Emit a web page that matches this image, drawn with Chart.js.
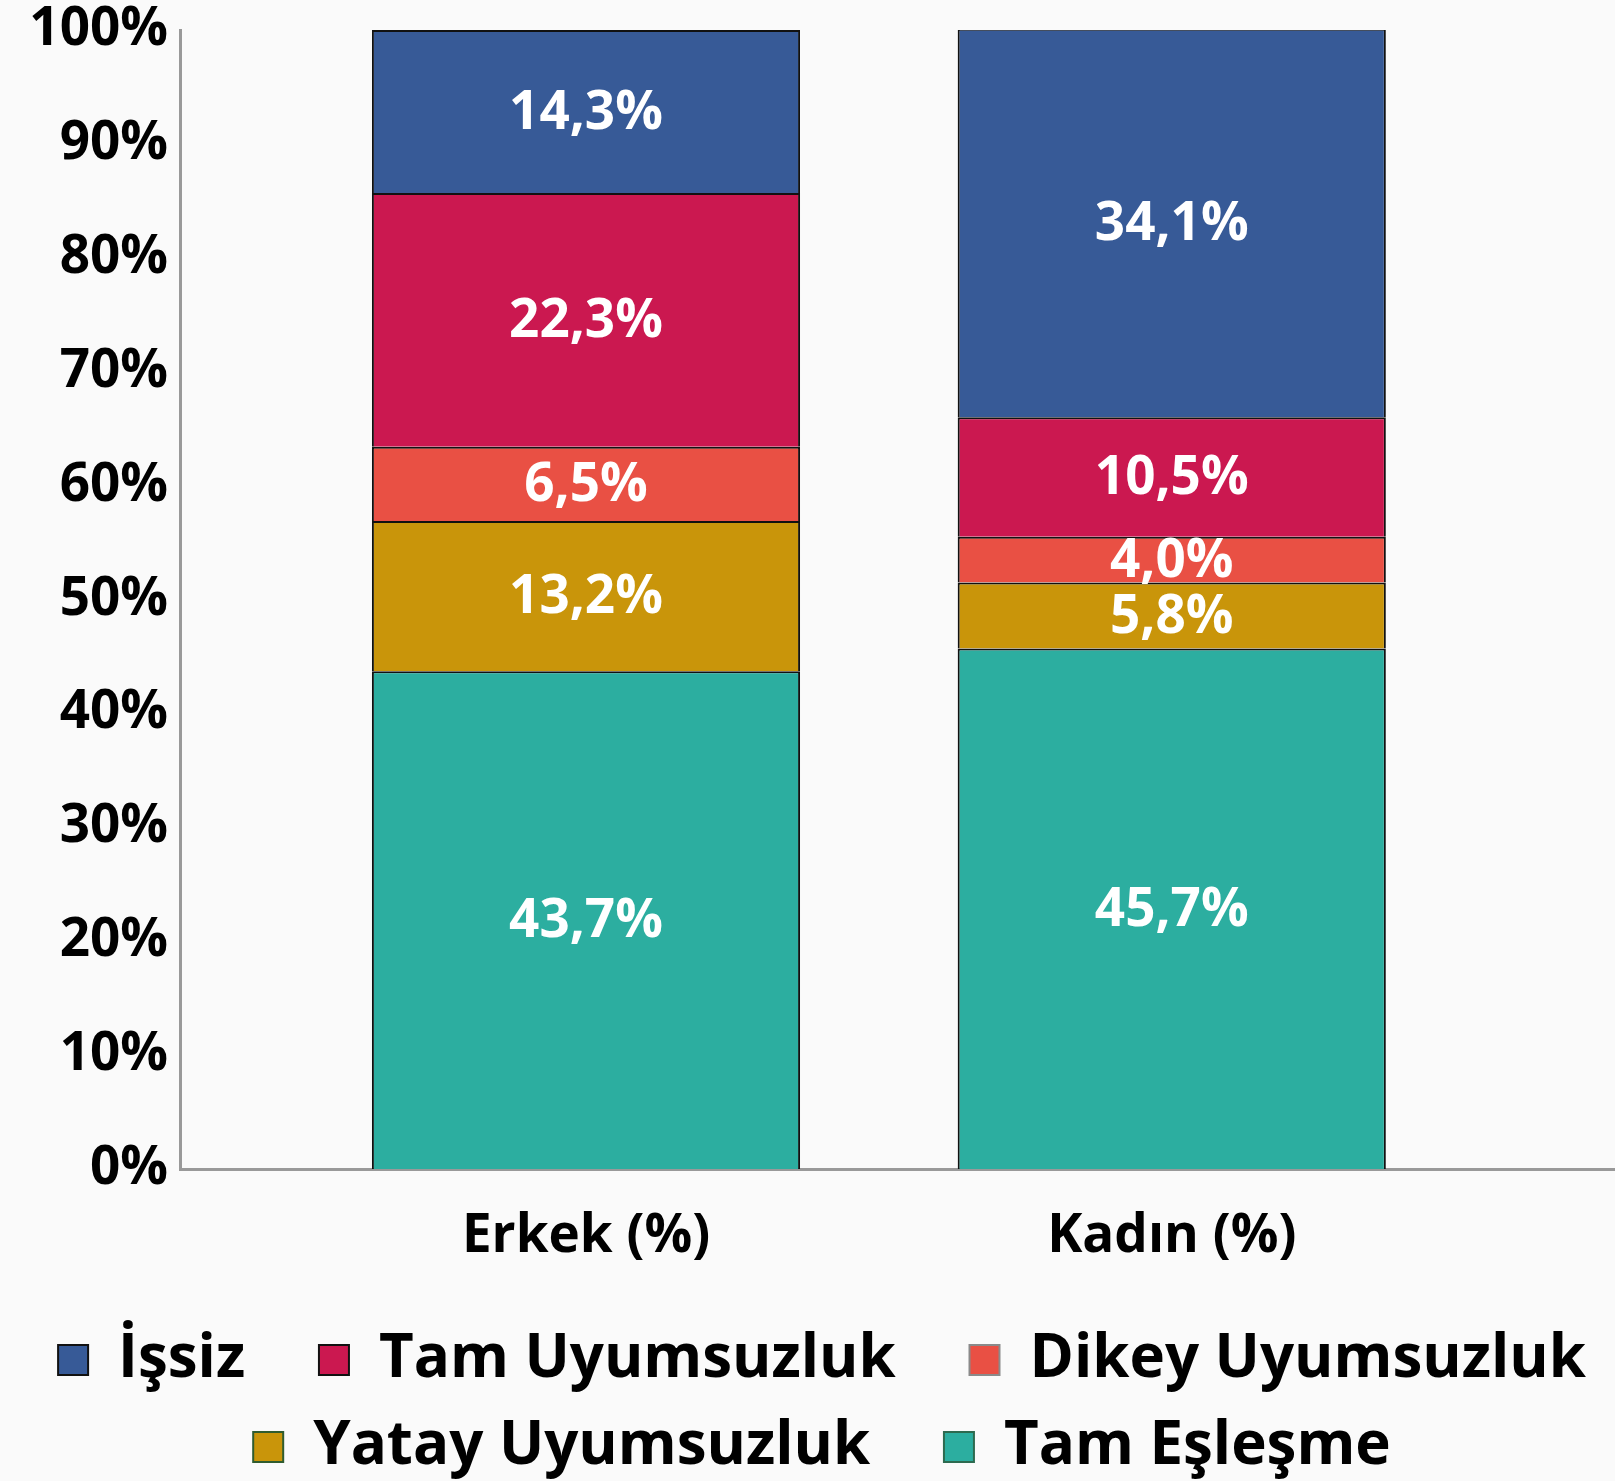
<!DOCTYPE html>
<html><head><meta charset="utf-8">
<script src="https://cdn.jsdelivr.net/npm/chart.js@4/dist/chart.umd.min.js"></script>
<style>html,body{margin:0;padding:0;background:#fafafa;} #wrap{width:1615px;height:1481px;position:relative;}</style>
</head><body><div id="wrap"><canvas id="c" width="1615" height="1481"></canvas></div>
<script>
// ---- data ----
const categories = ['Erkek (%)', 'Kadın (%)'];
const categoryPositions = [1, 2];
const seriesNames = ['Tam Eşleşme', 'Yatay Uyumsuzluk', 'Dikey Uyumsuzluk', 'Tam Uyumsuzluk', 'İşsiz'];
const tamEslesme = [43.7, 45.7];
const yatayUyumsuzluk = [13.2, 5.8];
const dikeyUyumsuzluk = [6.5, 4.0];
const tamUyumsuzluk = [22.3, 10.5];
const issiz = [14.3, 34.1];
const yTickValues = [0, 10, 20, 30, 40, 50, 60, 70, 80, 90, 100];

// ---- styles ----
const seriesValues = [tamEslesme, yatayUyumsuzluk, dikeyUyumsuzluk, tamUyumsuzluk, issiz];
const seriesColors = ['#2caea0', '#c9950a', '#e95044', '#cb1850', '#375a97'];
const legendBorders = ['#2d6a4f', '#2f5c2f', '#8a8a8a', '#111111', '#111111'];
const FONT = '"Open Sans", Lato, sans-serif';

const datasets = seriesNames.map((name, i) => ({
  label: name,
  data: seriesValues[i].map((v, j) => ({x: categoryPositions[j], y: v})),
  backgroundColor: seriesColors[i],
  borderColor: '#111111',
  borderWidth: 2,
  barPercentage: 0.731,
  categoryPercentage: 1.0
}));

const valueLabels = {
  id: 'valueLabels',
  afterDatasetsDraw(chart) {
    const ctx = chart.ctx;
    ctx.save();
    ctx.fillStyle = '#ffffff';
    ctx.font = 'bold 53px ' + FONT;
    ctx.textAlign = 'center';
    ctx.textBaseline = 'middle';
    chart.data.datasets.forEach((ds, di) => {
      const meta = chart.getDatasetMeta(di);
      meta.data.forEach((el, j) => {
        const v = ds.data[j].y;
        const txt = v.toFixed(1).replace('.', ',') + '%';
        ctx.fillText(txt, el.x, (el.y + el.base) / 2 + 2);
      });
    });
    ctx.restore();
  }
};

// items that end a legend row get no extra trailing gap
const lastInRow = ['Dikey Uyumsuzluk', 'Tam Eşleşme'];

new Chart(document.getElementById('c'), {
  type: 'bar',
  data: { datasets },
  plugins: [valueLabels],
  options: {
    responsive: false,
    animation: false,
    layout: { padding: { left: 29, right: 0, top: 0, bottom: -6 } },
    plugins: {
      tooltip: { enabled: false },
      legend: {
        position: 'bottom',
        align: 'center',
        reverse: true,
        labels: {
          color: '#000',
          font: { family: FONT, size: 60, weight: 'bold' },
          boxWidth: 30,
          boxHeight: 30,
          padding: 27,
          generateLabels(chart) {
            const items = Chart.defaults.plugins.legend.labels.generateLabels(chart);
            items.forEach(it => {
              it.strokeStyle = legendBorders[it.datasetIndex];
              it.lineWidth = 2;
              if (!lastInRow.includes(it.text)) it.text = it.text + '   ';
            });
            return items;
          }
        }
      }
    },
    scales: {
      x: {
        type: 'linear',
        stacked: true,
        offset: false,
        min: 0.3069,
        max: 2.7567,
        grid: { display: false, drawTicks: false },
        border: { display: true, color: '#999999', width: 3 },
        afterBuildTicks(scale) { scale.ticks = categoryPositions.map(v => ({value: v})); },
        afterFit(scale) { scale.height = 134; },
        ticks: {
          autoSkip: false,
          maxRotation: 0,
          padding: 36,
          color: '#000',
          font: { family: FONT, size: 53, weight: 'bold' },
          callback: (v) => categories[categoryPositions.indexOf(v)]
        }
      },
      y: {
        stacked: true,
        min: 0,
        max: 100,
        grid: { display: false, drawTicks: false },
        border: { display: true, color: '#999999', width: 3 },
        afterBuildTicks(scale) { scale.ticks = yTickValues.map(v => ({value: v})); },
        afterFit(scale) { scale.width = 151; scale.paddingTop = 30; },
        ticks: {
          padding: 12,
          color: '#000',
          font: { family: FONT, size: 53, weight: 'bold' },
          callback: (v) => v + '%'
        }
      }
    }
  }
});
</script>
</body></html>
